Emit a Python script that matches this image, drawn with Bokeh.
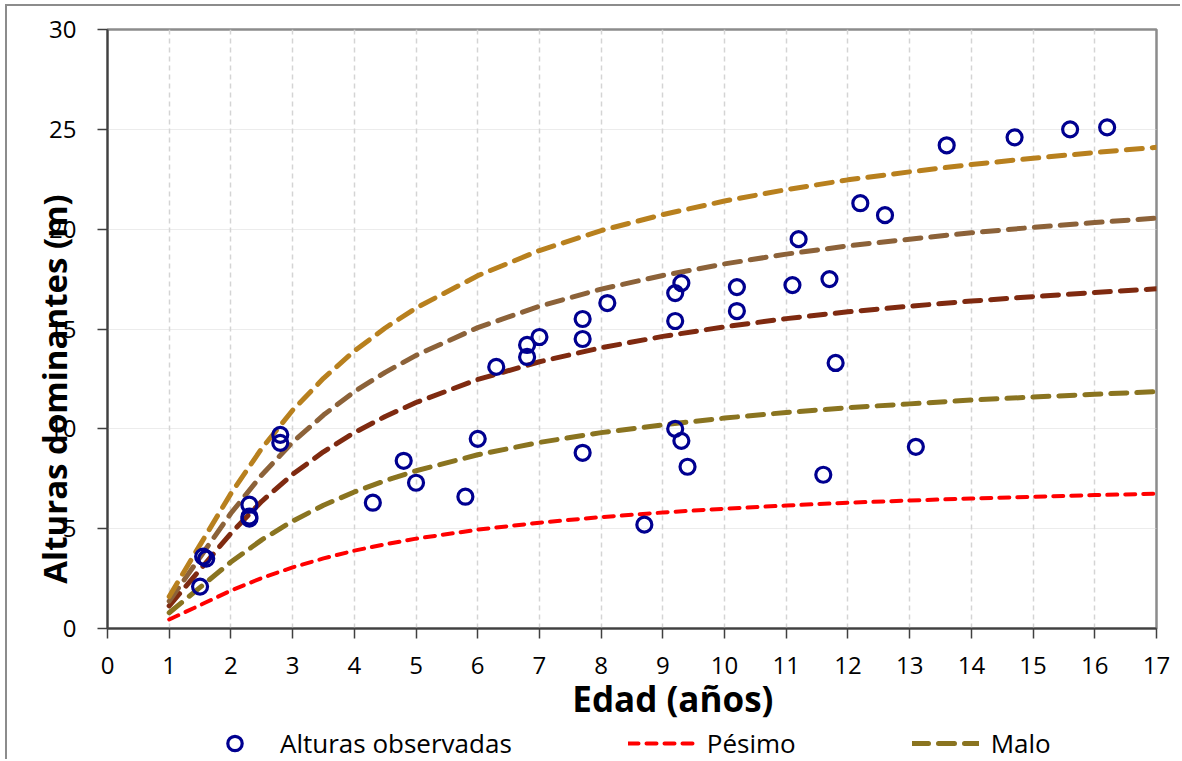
from bokeh.plotting import figure
from bokeh.layouts import column
from bokeh.models import Legend, LegendItem, FixedTicker, Range1d
from bokeh.embed import file_html
from bokeh.resources import INLINE

# ---- data ----
edad_obs = [1.5, 1.55, 1.6, 2.3, 2.3, 2.3, 2.8, 2.8, 4.3, 4.8, 5.0, 5.8, 6.0,
            6.3, 6.8, 6.8, 7.0, 7.7, 7.7, 7.7, 8.1, 8.7, 9.2, 9.3, 9.2,
            9.2, 9.3, 9.4, 10.2, 10.2, 11.1, 11.2, 11.7, 11.8, 11.6, 12.2,
            12.6, 13.1, 13.6, 14.7, 15.6, 16.2]
altura_obs = [2.1, 3.6, 3.5, 6.2, 5.6, 5.5, 9.7, 9.3, 6.3, 8.4, 7.3, 6.6, 9.5,
              13.1, 14.2, 13.6, 14.6, 15.5, 14.5, 8.8, 16.3, 5.2, 16.8, 17.3, 15.4,
              10.0, 9.4, 8.1, 17.1, 15.9, 17.2, 19.5, 17.5, 13.3, 7.7, 21.3,
              20.7, 9.1, 24.2, 24.6, 25.0, 25.1]

edad_curva = [1, 1.5, 2, 2.5, 3, 3.5, 4, 4.5, 5, 6, 7, 8, 9, 10, 11, 12, 13,
              14, 15, 16, 17]
pesimo = [0.45, 1.17, 1.90, 2.53, 3.06, 3.51, 3.90, 4.22, 4.50, 4.95, 5.30,
          5.58, 5.81, 6.00, 6.16, 6.30, 6.41, 6.51, 6.60, 6.68, 6.75]
malo = [0.79, 2.06, 3.33, 4.44, 5.38, 6.17, 6.84, 7.40, 7.90, 8.70, 9.32,
        9.81, 10.20, 10.54, 10.82, 11.06, 11.25, 11.44, 11.59, 11.73, 11.86]
curva_3 = [1.13, 2.95, 4.77, 6.37, 7.72, 8.85, 9.81, 10.62, 11.32, 12.47,
           13.36, 14.06, 14.63, 15.11, 15.52, 15.86, 16.14, 16.40, 16.62,
           16.83, 17.01]
curva_4 = [1.37, 3.57, 5.77, 7.69, 9.33, 10.69, 11.86, 12.83, 13.68, 15.07,
           16.14, 17.00, 17.68, 18.26, 18.75, 19.16, 19.50, 19.82, 20.09,
           20.33, 20.55]
curva_5 = [1.60, 4.19, 6.76, 9.02, 10.93, 12.53, 13.90, 15.05, 16.05, 17.67,
           18.93, 19.93, 20.73, 21.41, 21.98, 22.47, 22.87, 23.24, 23.55,
           23.84, 24.10]

x_ticks = list(range(0, 18))
y_ticks = [0, 5, 10, 15, 20, 25, 30]

FONT = "Open Sans"
NB = "\u00a0"

OBS_STYLE = dict(marker="circle", size=15, line_color="#000090",
                 line_width=3.2, fill_color=None)
CURVE_STYLES = [
    ("#ff0000", 4, "10 8"),
    ("#8a7420", 5, "16 10"),
    ("#7f2a10", 5, "16 10"),
    ("#8c6239", 5, "16 10"),
    ("#b8801e", 5, "16 10"),
]

p = figure(width=1175, height=719,
           x_range=Range1d(0, 17), y_range=Range1d(0, 30),
           output_backend="svg", toolbar_location=None,
           min_border_left=100, min_border_right=26,
           min_border_top=23, min_border_bottom=97)
p.background_fill_color = "white"
p.border_fill_color = "white"
p.outline_line_color = "#8c8c8c"
p.outline_line_width = 2.5

# grids
p.xgrid.ticker = FixedTicker(ticks=x_ticks)
p.ygrid.ticker = FixedTicker(ticks=y_ticks)
p.xgrid.grid_line_color = "#d4d4d4"
p.xgrid.grid_line_width = 1.5
p.xgrid.grid_line_dash = "5 4"
p.ygrid.grid_line_color = "#d9d9d9"
p.ygrid.grid_line_width = 1
p.ygrid.grid_line_dash = "1 1"

# axes
for ax, ticks in ((p.xaxis, x_ticks), (p.yaxis, y_ticks)):
    ax.ticker = FixedTicker(ticks=ticks)
    ax.axis_line_color = "#404040"
    ax.axis_line_width = 2
    ax.major_tick_line_color = "#404040"
    ax.major_tick_line_width = 1.5
    ax.major_tick_out = 10
    ax.major_tick_in = 0
    ax.minor_tick_line_color = None
    ax.major_label_text_font = FONT
    ax.major_label_text_font_size = "24px"
    ax.major_label_text_color = "black"
    ax.axis_label_text_font = FONT
    ax.axis_label_text_font_style = "bold"
    ax.axis_label_text_color = "black"

p.xaxis.major_label_standoff = 18
p.yaxis.major_label_standoff = 21
p.xaxis.axis_label = NB * 9 + "Edad (años)"
p.xaxis.axis_label_text_font_size = "35px"
p.xaxis.axis_label_standoff = -2
p.yaxis.axis_label = "Alturas dominantes (m)" + NB * 14
p.yaxis.axis_label_text_font_size = "33px"
p.yaxis.axis_label_standoff = -31

# curves
curvas = [pesimo, malo, curva_3, curva_4, curva_5]
for ys, (col, lw, dash) in zip(curvas, CURVE_STYLES):
    p.line(edad_curva, ys, line_color=col, line_width=lw,
           line_dash=dash, line_cap="round")

p.scatter(edad_obs, altura_obs, **OBS_STYLE)

# ---- legend strip below the chart (its own renderers sit outside its view) ----
q = figure(width=1175, height=36, x_range=Range1d(100, 101), y_range=Range1d(100, 101),
           x_axis_type=None, y_axis_type=None,
           output_backend="svg", toolbar_location=None,
           min_border_left=100, min_border_right=26,
           min_border_top=0, min_border_bottom=0)
q.outline_line_color = None
q.xgrid.visible = False
q.ygrid.visible = False
q.border_fill_color = "white"
r_obs = q.scatter(edad_obs[:1], altura_obs[:1], **OBS_STYLE)
r_pes = q.line(edad_curva[:2], pesimo[:2], line_color=CURVE_STYLES[0][0],
               line_width=CURVE_STYLES[0][1], line_dash=CURVE_STYLES[0][2],
               line_cap="round")
r_mal = q.line(edad_curva[:2], malo[:2], line_color=CURVE_STYLES[1][0],
               line_width=CURVE_STYLES[1][1], line_dash=CURVE_STYLES[1][2],
               line_cap="round")

legend = Legend(items=[
    LegendItem(label="Alturas observadas", renderers=[r_obs]),
    LegendItem(label="Pésimo", renderers=[r_pes]),
    LegendItem(label="Malo", renderers=[r_mal]),
], orientation="horizontal", location=(94, 0))
legend.label_text_font = FONT
legend.label_text_font_size = "26px"
legend.label_text_color = "black"
legend.glyph_width = 67
legend.glyph_height = 36
legend.label_standoff = 12
legend.spacing = 116
legend.margin = 0
legend.padding = 0
legend.border_line_color = None
legend.background_fill_alpha = 0
q.add_layout(legend)

layout = column(p, q, margin=(6, 0, 0, 7), spacing=0,
                styles={"box-shadow": "-2px -2px 0 0 #8c8c8c"})

open("out.html", "w").write(file_html(layout, INLINE))
